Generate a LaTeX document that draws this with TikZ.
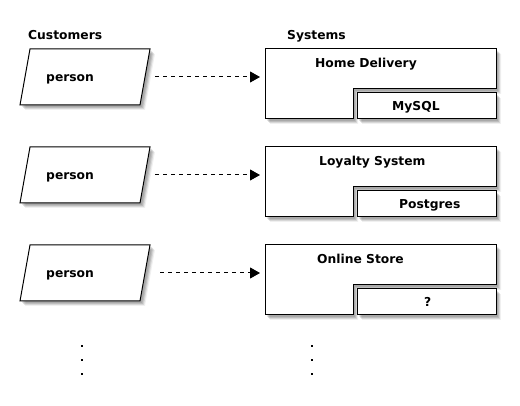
\documentclass[tikz,border=0pt]{standalone}
\usepackage{fontspec}
\setmainfont{DejaVu Sans}
\usetikzlibrary{arrows.meta}
\tikzset{
  lbl/.style={font=\fontsize{12.3}{14}\selectfont\bfseries, inner sep=0pt, anchor=base west},
  shapeline/.style={draw=black, line width=1pt, fill=white, line join=miter},
  flow/.style={line width=1pt, dash pattern=on 4pt off 4pt, -{Triangle[length=10pt,width=11pt]}},
  dotmark/.style={fill=black}
}
\newcommand{\personshape}[1]{%
  \foreach \s/\o in {2/0.10,3/0.12,4/0.10,5/0.06}{
    \fill[black, opacity=\o] (30+\s,#1+\s) -- (150+\s,#1+\s) -- (140+\s,#1+56+\s) -- (20+\s,#1+56+\s) -- cycle;
  }
  \draw[shapeline] (30,#1) -- (150,#1) -- (140,#1+56) -- (20,#1+56) -- cycle;
}
\newcommand{\systemshape}[1]{%
  \foreach \s/\o in {2/0.10,3/0.12,4/0.10,5/0.06}{
    \fill[black, opacity=\o] (265+\s,#1+\s) -- (496+\s,#1+\s) -- (496+\s,#1+40+\s) -- (353+\s,#1+40+\s) -- (353+\s,#1+70+\s) -- (265+\s,#1+70+\s) -- cycle;
    \fill[black, opacity=\o] (357+\s,#1+44+\s) rectangle (496+\s,#1+70+\s);
  }
  \draw[shapeline] (265,#1) -- (496,#1) -- (496,#1+40) -- (353,#1+40) -- (353,#1+70) -- (265,#1+70) -- cycle;
  \draw[shapeline] (357,#1+44) rectangle (496,#1+70);
}
\begin{document}
\begin{tikzpicture}[x=1pt,y=-1pt]
\useasboundingbox[fill=white] (0,0) rectangle (520,406);

% headers
\node[lbl] (hcust) at (28,40) {Customers};
\node[lbl] (hsys) at (287,40) {Systems};

% row 1
\personshape{49}
\systemshape{49}
\node[lbl] (p1) at (46,82) {person};
\node[lbl] (s1) at (315,68) {Home Delivery};
\node[lbl] (d1) at (392,111) {MySQL};
\coordinate (a1s) at (155,77);
\coordinate (a1e) at (260,77);
\draw[flow] (a1s) -- (a1e);

% row 2
\personshape{147}
\systemshape{147}
\node[lbl] (p2) at (46,180) {person};
\node[lbl] (s2) at (319,166) {Loyalty System};
\node[lbl] (d2) at (399,209) {Postgres};
\coordinate (a2s) at (155,175);
\coordinate (a2e) at (260,175);
\draw[flow] (a2s) -- (a2e);

% row 3
\personshape{245}
\systemshape{245}
\node[lbl] (p3) at (46,278) {person};
\node[lbl] (s3) at (317,264) {Online Store};
\node[lbl] (d3) at (424,307) {?};
\coordinate (a3s) at (160,273);
\coordinate (a3e) at (260,273);
\draw[flow] (a3s) -- (a3e);

% ellipsis dots
\foreach \y in {346,360,374}{
  \fill[dotmark] (81,\y-1) rectangle (83,\y+1);
  \fill[dotmark] (311,\y-1) rectangle (313,\y+1);
}
\end{tikzpicture}
\end{document}
